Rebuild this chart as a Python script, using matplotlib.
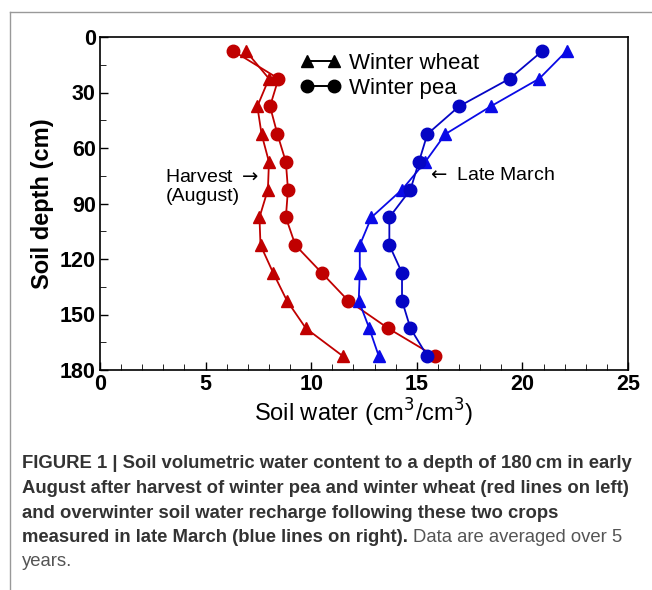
import matplotlib.pyplot as plt
from matplotlib.lines import Line2D

plt.rcParams['font.family'] = ['Liberation Sans', 'DejaVu Sans']

depth = [7.5, 22.5, 37.5, 52.5, 67.5, 82.5, 97.5, 112.5, 127.5, 142.5, 157.5, 172.5]

# after harvest (August)
wheat_aug = [6.9, 8.0, 7.45, 7.65, 8.0, 7.95, 7.55, 7.6, 8.2, 8.85, 9.75, 11.5]
pea_aug = [6.3, 8.45, 8.05, 8.4, 8.8, 8.9, 8.8, 9.25, 10.5, 11.75, 13.65, 15.85]

# late March
wheat_mar = [22.1, 20.8, 18.5, 16.35, 15.4, 14.3, 12.85, 12.3, 12.3, 12.25, 12.75, 13.2]
pea_mar = [20.95, 19.4, 17.0, 15.5, 15.1, 14.7, 13.7, 13.7, 14.3, 14.3, 14.7, 15.5]

red = '#c00000'
blue_tri = '#0a0ae6'
blue_dot = '#0505c4'

fig = plt.figure(figsize=(6.52, 5.90), dpi=100)
ax = fig.add_axes([100/652, 1-370/590, 528/652, 333/590])

ax.plot(wheat_aug, depth, color=red, marker='^', ms=9, lw=1.3)
ax.plot(pea_aug, depth, color=red, marker='o', ms=9, lw=1.3)
ax.plot(wheat_mar, depth, color=blue_tri, marker='^', ms=9, lw=1.3)
ax.plot(pea_mar, depth, color=blue_dot, marker='o', ms=9, lw=1.3)

ax.set_xlim(0, 25)
ax.set_ylim(180, 0)
ax.set_xticks(range(0, 26, 5))
ax.set_xticks(range(0, 26), minor=True)
ax.set_yticks(range(0, 181, 30))
ax.set_yticks(range(0, 181, 15), minor=True)
ax.tick_params(direction='in', labelsize=15.5, width=1, length=6, pad=3)
ax.tick_params(which='minor', direction='in', length=4)
for lab in ax.get_xticklabels() + ax.get_yticklabels():
    lab.set_fontweight('bold')
for s in ax.spines.values():
    s.set_linewidth(1.2)

ax.set_xlabel('Soil water (cm$^3$/cm$^3$)', fontsize=17, labelpad=1)
ax.set_ylabel('Soil depth (cm)', fontsize=17, fontweight='bold', labelpad=4)

ax.text(3.1, 81, 'Harvest $\\rightarrow$\n(August)', fontsize=14, ha='left', va='center',
        linespacing=1.15)
ax.text(15.5, 75, '$\\leftarrow$ Late March', fontsize=14, ha='left', va='center')

handles = [Line2D([0], [0], color='black', marker='^', ms=9, lw=1.4),
           Line2D([0], [0], color='black', marker='o', ms=9, lw=1.4)]
ax.legend(handles, ['Winter wheat', 'Winter pea'], loc='upper left',
          bbox_to_anchor=(0.35, 1.0), frameon=False, numpoints=2,
          handlelength=1.8, handletextpad=0.4, fontsize=16, labelspacing=0.2,
          borderaxespad=0.3)

# frame lines of the figure panel
fig.add_artist(Line2D([10/652, 1], [1-12/590, 1-12/590], color='#999999', lw=1))
fig.add_artist(Line2D([10/652, 10/652], [0, 1-12/590], color='#999999', lw=1))

cap_bold = ['FIGURE 1 | Soil volumetric water content to a depth of 180\u2009cm in early',
            'August after harvest of winter pea and winter wheat (red lines on left)',
            'and overwinter soil water recharge following these two crops',
            'measured in late March (blue lines on right).']
cap_size = 13.3
y0 = 464
last = None
for i, line in enumerate(cap_bold):
    last = fig.text(22/652, 1-(y0+i*24.5)/590, line, fontsize=cap_size, fontweight='bold',
                    color='#333333', va='center')
bb = last.get_window_extent(renderer=fig.canvas.get_renderer())
fig.text((bb.x1 + 5)/652, 1-(y0+3*24.5)/590, 'Data are averaged over 5', fontsize=cap_size,
         color='#555555', va='center')
fig.text(22/652, 1-(y0+4*24.5)/590, 'years.', fontsize=cap_size, color='#555555', va='center')

fig.savefig('out.png', dpi=100)
